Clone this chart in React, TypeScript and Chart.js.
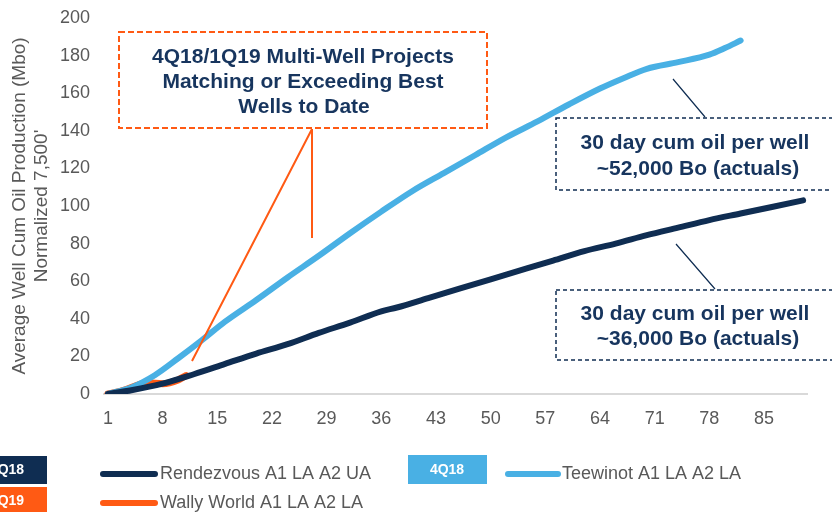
import React, { useEffect, useRef } from "react";
import { Chart, registerables } from "chart.js";

Chart.register(...registerables);

// ---- data ----
const xTicks = [1, 8, 15, 22, 29, 36, 43, 50, 57, 64, 71, 78, 85];
const yTicks = [0, 20, 40, 60, 80, 100, 120, 140, 160, 180, 200];

const rendezvousDays = [1, 4, 8, 12, 16, 20, 24, 28, 32, 36, 38, 42, 46, 50, 54, 58, 62, 66, 70, 74, 78, 82, 86, 90];
const rendezvousValues = [0, 2, 5.5, 10.5, 16, 21.5, 26.5, 32.5, 38, 44, 46, 51, 56, 61, 66, 71, 76, 80, 84.5, 88.5, 92.5, 96, 99.5, 103];

const teewinotDays = [1, 4, 7, 10, 13, 16, 20, 24, 28, 32, 36, 40, 44, 48, 52, 56, 60, 64, 67, 70, 74, 78, 80, 82];
const teewinotValues = [0, 3.5, 10, 19, 28.5, 38.5, 50, 62, 73.5, 85.5, 97, 108, 117.5, 127, 136.5, 145, 154, 162.5, 168, 173, 176.5, 180.5, 184, 188];

const wallyDays = [1, 3, 5, 6, 8, 10, 11];
const wallyValues = [0, 2, 5, 6, 5.5, 7.5, 9.8];

const seriesNames = ["Rendezvous A1 LA A2 UA", "Teewinot A1 LA A2 LA", "Wally World A1 LA A2 LA"];
const yTitle = ["Average Well Cum Oil Production (Mbo)", "Normalized 7,500'"];
const calloutMain = ["4Q18/1Q19 Multi-Well Projects", "Matching or Exceeding Best", "Wells to Date"];
const calloutTop = ["30 day cum oil per well", "~52,000 Bo (actuals)"];
const calloutBottom = ["30 day cum oil per well", "~36,000 Bo (actuals)"];
const quarterTags = ["4Q18", "1Q19", "4Q18"];

// ---- styles ----
const NAVY = "#0f2d52";
const NAVY_TEXT = "#17355e";
const BLUE = "#49b0e4";
const ORANGE = "#ff5a14";
const GREY = "#595959";
const FONT = '"Liberation Sans", Arial, sans-serif';

const toPoints = (days: number[], vals: number[]) => days.map((d, i) => ({ x: d, y: vals[i] }));

const overlayPlugin = {
  id: "overlay",
  afterDatasetsDraw(chart: any) {
    const ctx = chart.ctx as CanvasRenderingContext2D;
    ctx.save();
    // orange callout
    ctx.strokeStyle = ORANGE;
    ctx.lineWidth = 2;
    ctx.setLineDash([6, 3]);
    ctx.strokeRect(119, 32, 368, 96);
    ctx.setLineDash([]);
    ctx.beginPath();
    ctx.moveTo(312, 129);
    ctx.lineTo(312, 238);
    ctx.moveTo(312, 129);
    ctx.lineTo(192, 361);
    ctx.stroke();

    ctx.fillStyle = NAVY_TEXT;
    ctx.font = `bold 21px ${FONT}`;
    ctx.textAlign = "center";
    ctx.textBaseline = "middle";
    ctx.fillText(calloutMain[0], 303, 57);
    ctx.fillText(calloutMain[1], 303, 82);
    ctx.fillText(calloutMain[2], 304, 107);

    // navy callouts
    ctx.strokeStyle = NAVY;
    ctx.lineWidth = 1.5;
    ctx.setLineDash([4, 3]);
    ctx.strokeRect(556, 118, 300, 72);
    ctx.strokeRect(556, 290, 300, 70);
    ctx.setLineDash([]);
    ctx.lineWidth = 1.2;
    ctx.beginPath();
    ctx.moveTo(673, 79);
    ctx.lineTo(705, 117);
    ctx.moveTo(676, 244);
    ctx.lineTo(715, 289);
    ctx.stroke();

    ctx.fillStyle = NAVY_TEXT;
    ctx.fillText(calloutTop[0], 695, 143);
    ctx.fillText(calloutTop[1], 698, 169);
    ctx.fillText(calloutBottom[0], 695, 314);
    ctx.fillText(calloutBottom[1], 698, 339);

    // legend area
    ctx.fillStyle = NAVY;
    ctx.fillRect(-40, 456, 87, 28);
    ctx.fillStyle = ORANGE;
    ctx.fillRect(-40, 487, 87, 30);
    ctx.fillStyle = BLUE;
    ctx.fillRect(408, 455, 79, 29);
    ctx.fillStyle = "#ffffff";
    ctx.font = `bold 14px ${FONT}`;
    ctx.fillText(quarterTags[0], 7, 470);
    ctx.fillText(quarterTags[1], 7, 501);
    ctx.fillText(quarterTags[2], 447, 470);

    const sample = (x1: number, x2: number, y: number, c: string) => {
      ctx.strokeStyle = c;
      ctx.lineWidth = 6;
      ctx.lineCap = "round";
      ctx.beginPath();
      ctx.moveTo(x1, y);
      ctx.lineTo(x2, y);
      ctx.stroke();
    };
    sample(103, 155, 474, NAVY);
    sample(508, 558, 474, BLUE);
    sample(103, 155, 503, ORANGE);
    ctx.fillStyle = GREY;
    ctx.font = `18px ${FONT}`;
    ctx.textAlign = "left";
    ctx.fillText(seriesNames[0], 160, 474);
    ctx.fillText(seriesNames[1], 562, 474);
    ctx.fillText(seriesNames[2], 160, 503);
    ctx.restore();
  },
};

export default function App() {
  const ref = useRef<HTMLCanvasElement | null>(null);
  useEffect(() => {
    if (!ref.current) return;
    const line = (label: string, data: any[], color: string, w: number) => ({
      label,
      data,
      borderColor: color,
      backgroundColor: color,
      borderWidth: w,
      pointRadius: 0,
      borderCapStyle: "round" as const,
      borderJoinStyle: "round" as const,
      cubicInterpolationMode: "monotone" as const,
      fill: false,
    });
    const chart = new Chart(ref.current, {
      type: "line",
      data: {
        datasets: [
          line(seriesNames[0], toPoints(rendezvousDays, rendezvousValues), NAVY, 6),
          line(seriesNames[1], toPoints(teewinotDays, teewinotValues), BLUE, 6),
          line(seriesNames[2], toPoints(wallyDays, wallyValues), ORANGE, 7),
        ],
      },
      options: {
        animation: false,
        responsive: false,
        layout: { autoPadding: false, padding: { left: 0, right: 25, top: 18, bottom: 60 } },
        plugins: { legend: { display: false }, tooltip: { enabled: false } },
        scales: {
          x: {
            type: "linear",
            min: 0.5,
            max: 90.5,
            afterBuildTicks: (s: any) => {
              s.ticks = xTicks.map((v) => ({ value: v }));
            },
            afterFit: (s: any) => {
              s.height = 58;
            },
            grid: { display: false },
            border: { display: true, color: "#d9d9d9", width: 2 },
            ticks: {
              color: GREY,
              font: { family: FONT, size: 18 },
              padding: 6,
              maxRotation: 0,
              autoSkip: false,
            },
          },
          y: {
            min: 0,
            max: 200,
            afterBuildTicks: (s: any) => {
              s.ticks = yTicks.map((v) => ({ value: v }));
            },
            afterFit: (s: any) => {
              s.width = 104;
            },
            grid: {
              display: true,
              drawOnChartArea: false,
              drawTicks: true,
              tickLength: 14,
              color: "rgba(0,0,0,0)",
            },
            border: { display: false },
            ticks: { color: GREY, font: { family: FONT, size: 18 }, padding: 0 },
            title: {
              display: true,
              text: yTitle,
              color: GREY,
              font: { family: FONT, size: 19, lineHeight: 1.16 },
              padding: { top: 9, bottom: 0 },
            },
          },
        },
      },
      plugins: [overlayPlugin],
    });
    return () => chart.destroy();
  }, []);
  return (
    <div style={{ position: "absolute", left: 0, top: 0, width: 832, height: 512, background: "#fff" }}>
      <canvas ref={ref} width={832} height={512} style={{ display: "block" }} />
    </div>
  );
}
